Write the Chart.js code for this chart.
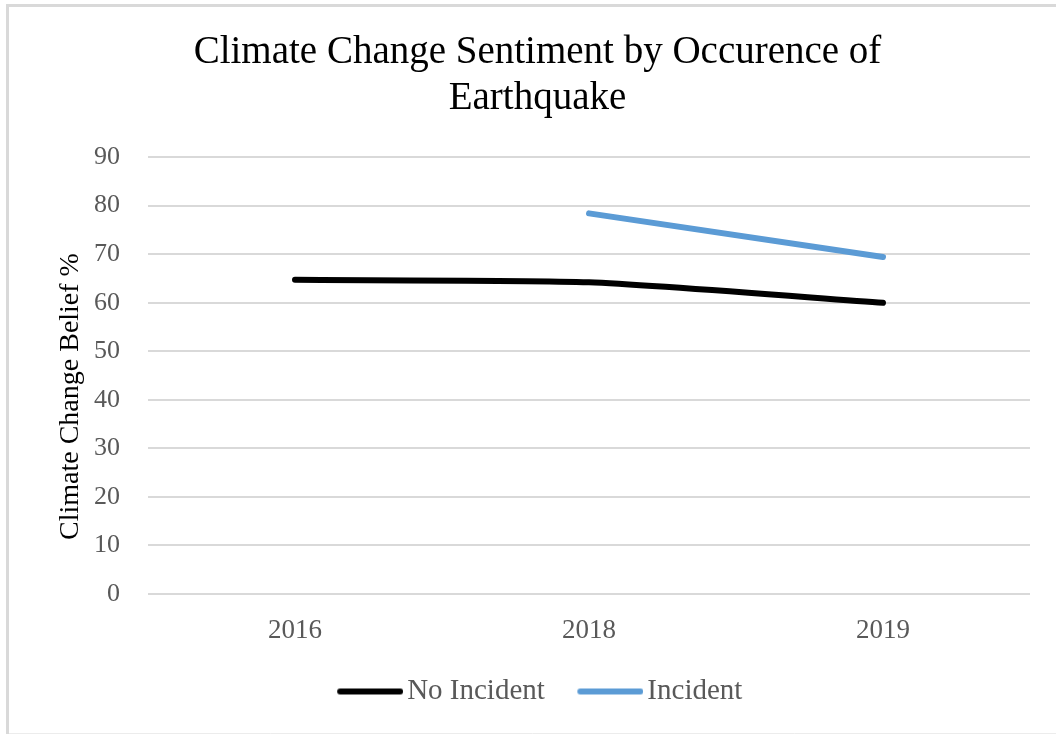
<!DOCTYPE html>
<html>
<head>
<meta charset="utf-8">
<script src="https://cdn.jsdelivr.net/npm/chart.js@4/dist/chart.umd.min.js"></script>
<style>
  html, body { margin: 0; padding: 0; background: #fff; }
  canvas { display: block; }
</style>
</head>
<body>
<canvas id="chart" width="1056" height="734"></canvas>
<script>
// Survey years and belief percentages per group
const years = ['2016', '2018', '2019'];
const noIncident = [64.7, 64.2, 60.0];
const incident = [null, 78.4, 69.4];
const seriesNames = ['No Incident', 'Incident'];
const seriesColors = ['#000000', '#5B9BD5'];
const yMin = 0;
const yMax = 90;
const yStep = 10;
const chartTitle = ['Climate Change Sentiment by Occurence of', 'Earthquake'];
const yTitle = 'Climate Change Belief %';

const SERIF = "'Liberation Serif', 'Times New Roman', serif";
const GREY_TEXT = '#595959';
const GRID = '#d9d9d9';

// Legend swatch: a thick rounded stroke sitting at the right end of its canvas
function swatch(color, width) {
  const c = document.createElement('canvas');
  c.width = width;
  c.height = 10;
  const g = c.getContext('2d');
  g.strokeStyle = color;
  g.lineWidth = 6;
  g.lineCap = 'round';
  g.beginPath();
  g.moveTo(width - 63, 5);
  g.lineTo(width - 3, 5);
  g.stroke();
  return c;
}
const SWATCH_W = 81;
const swatches = seriesColors.map(c => swatch(c, SWATCH_W));

// White page with the light grey frame around the chart
const frame = {
  id: 'frame',
  beforeDraw(chart) {
    const g = chart.ctx;
    g.save();
    g.fillStyle = '#ffffff';
    g.fillRect(0, 0, chart.width, chart.height);
    g.strokeStyle = GRID;
    g.lineWidth = 3;
    g.beginPath();
    g.moveTo(7.5, chart.height);
    g.lineTo(7.5, 5.5);
    g.lineTo(chart.width, 5.5);
    g.stroke();
    g.strokeStyle = '#ececec';
    g.lineWidth = 1;
    g.beginPath();
    g.moveTo(9, chart.height - 0.5);
    g.lineTo(chart.width, chart.height - 0.5);
    g.stroke();
    g.restore();
  }
};

new Chart(document.getElementById('chart'), {
  type: 'line',
  data: {
    labels: years,
    datasets: [
      {
        label: seriesNames[0],
        data: noIncident,
        borderColor: seriesColors[0],
        backgroundColor: seriesColors[0],
        borderWidth: 6,
        borderCapStyle: 'round',
        borderJoinStyle: 'round',
        tension: 0.2,
        pointRadius: 0,
        pointHoverRadius: 0
      },
      {
        label: seriesNames[1],
        data: incident,
        borderColor: seriesColors[1],
        backgroundColor: seriesColors[1],
        borderWidth: 6,
        borderCapStyle: 'round',
        borderJoinStyle: 'round',
        tension: 0,
        pointRadius: 0,
        pointHoverRadius: 0
      }
    ]
  },
  options: {
    responsive: false,
    animation: false,
    devicePixelRatio: 1,
    layout: { padding: { top: 0, left: 45, right: 26, bottom: 18 } },
    plugins: {
      tooltip: { enabled: false },
      title: {
        display: true,
        text: chartTitle,
        color: '#000000',
        font: { family: SERIF, size: 39, weight: 'normal', lineHeight: 1.18 },
        padding: { top: 30, bottom: 35 }
      },
      legend: {
        display: true,
        position: 'bottom',
        labels: {
          usePointStyle: true,
          pointStyleWidth: 60,
          padding: 28,
          color: GREY_TEXT,
          font: { family: SERIF, size: 29 },
          generateLabels(chart) {
            const items = Chart.defaults.plugins.legend.labels.generateLabels(chart);
            items.forEach((it, i) => { it.pointStyle = swatches[i]; it.lineWidth = 0; });
            return items;
          }
        }
      }
    },
    scales: {
      x: {
        type: 'category',
        offset: true,
        grid: { display: false, drawTicks: false },
        border: { display: false },
        ticks: {
          color: GREY_TEXT,
          padding: 21,
          font: { family: SERIF, size: 27 }
        },
        afterFit(scale) { scale.height = 55; }
      },
      y: {
        min: yMin,
        max: yMax,
        grid: { color: GRID, lineWidth: 2, drawTicks: false },
        border: { display: false },
        ticks: {
          stepSize: yStep,
          color: GREY_TEXT,
          padding: 28,
          font: { family: SERIF, size: 26 }
        },
        title: {
          display: true,
          text: yTitle + '\u00a0'.repeat(6),
          color: '#000000',
          padding: { top: 9, bottom: 0 },
          font: { family: SERIF, size: 28, lineHeight: 1.2 }
        },
        afterFit(scale) { scale.width = 103; }
      }
    }
  },
  plugins: [frame]
});
</script>
</body>
</html>
